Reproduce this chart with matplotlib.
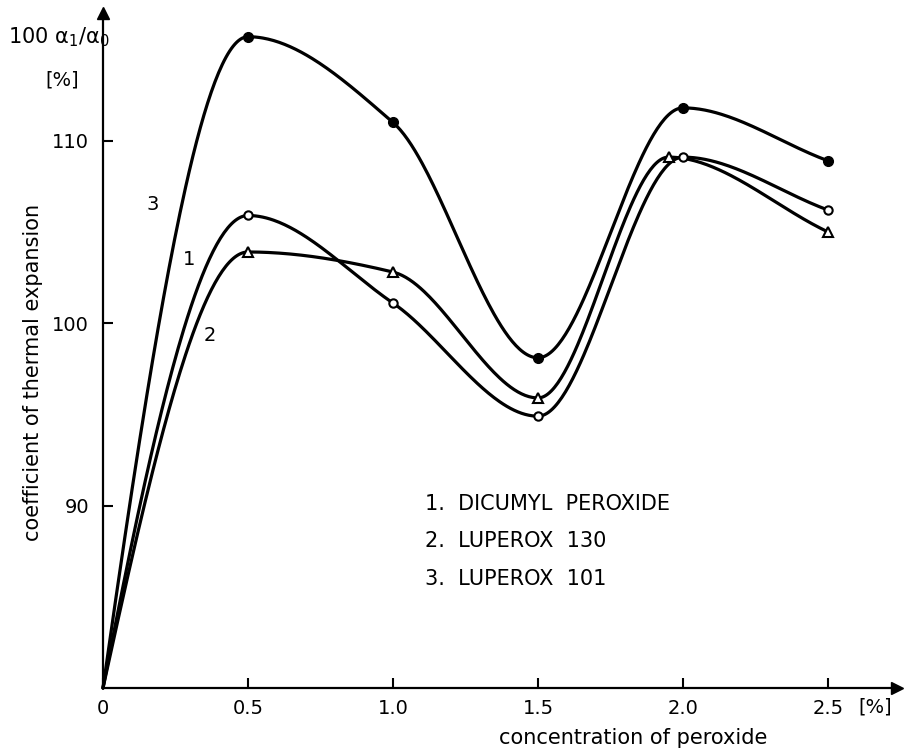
import numpy as np
import matplotlib
matplotlib.use("Agg")
import matplotlib.pyplot as plt

# concentration of peroxide [%]
conc = [0.0, 0.5, 1.0, 1.5, 2.0, 2.5]
conc_luperox130 = [0.0, 0.5, 1.0, 1.5, 1.95, 2.5]

# 100 a1/a0 [%]
dicumyl = [80.0, 105.9, 101.1, 94.9, 109.1, 106.2]      # curve 1, open circles
luperox130 = [80.0, 103.9, 102.8, 95.9, 109.1, 105.0]   # curve 2, open triangles
luperox101 = [80.0, 115.7, 111.0, 98.1, 111.8, 108.9]   # curve 3, filled circles

legend_lines = ["1.  DICUMYL  PEROXIDE", "2.  LUPEROX  130", "3.  LUPEROX  101"]
xticks = [0, 0.5, 1.0, 1.5, 2.0, 2.5]
xticklabels = ["0", "0.5", "1.0", "1.5", "2.0", "2.5"]
yticks = [90, 100, 110]


def pchip(x, y, n=80):
    # monotone cubic through the read points (drawing only, like a french curve)
    x = np.asarray(x, float)
    y = np.asarray(y, float)
    h = np.diff(x)
    d = np.diff(y) / h
    m = np.zeros_like(y)
    for k in range(1, len(x) - 1):
        if d[k-1] * d[k] > 0:
            w1 = 2*h[k] + h[k-1]
            w2 = h[k] + 2*h[k-1]
            m[k] = (w1 + w2) / (w1/d[k-1] + w2/d[k])

    # steep start at the origin, plain secant slope at the last point
    t0 = ((2*h[0] + h[1])*d[0] - h[0]*d[1]) / (h[0] + h[1])
    if np.sign(d[0]) != np.sign(d[1]) and abs(t0) > 3*abs(d[0]):
        t0 = 3*d[0]
    m[0] = t0
    m[-1] = d[-1]

    xs, ys = [], []
    for i in range(len(x) - 1):
        t = np.linspace(0, 1, n)
        h00 = 2*t**3 - 3*t**2 + 1
        h10 = t**3 - 2*t**2 + t
        h01 = -2*t**3 + 3*t**2
        h11 = t**3 - t**2
        xs.append(x[i] + t*h[i])
        ys.append(h00*y[i] + h10*h[i]*m[i] + h01*y[i+1] + h11*h[i]*m[i+1])
    return np.concatenate(xs), np.concatenate(ys)


plt.rcParams['font.family'] = ['DejaVu Sans']

fig = plt.figure(figsize=(9.05, 7.48), dpi=100)
ax = fig.add_axes([103/905, 60/748, 794/905, 675/748])
ax.set_xlim(0, 794/290)
ax.set_ylim(80, 117)

for s in ['top', 'right']:
    ax.spines[s].set_visible(False)
for s in ['left', 'bottom']:
    ax.spines[s].set_linewidth(1.6)

# arrow heads on the axes
ax.plot(1, 0, marker='>', ms=9, color='k', transform=ax.transAxes, clip_on=False)
ax.plot(0, 1, marker='^', ms=9, color='k', transform=ax.transAxes, clip_on=False)

lw = 2.3
for xv, yv in [(conc, dicumyl), (conc_luperox130, luperox130), (conc, luperox101)]:
    sx, sy = pchip(xv, yv)
    ax.plot(sx, sy, color='k', lw=lw, clip_on=False, solid_capstyle='round')

ax.plot(conc[1:], dicumyl[1:], 'o', ms=6, mfc='white', mec='k', mew=1.5, ls='none')
ax.plot(conc_luperox130[1:], luperox130[1:], '^', ms=7, mfc='white', mec='k', mew=1.5, ls='none')
ax.plot(conc[1:], luperox101[1:], 'o', ms=7, mfc='k', mec='k', ls='none')

ax.set_xticks(xticks)
ax.set_xticklabels(xticklabels)
ax.set_yticks(yticks)
ax.tick_params(direction='in', length=7, width=1.5, labelsize=14)
ax.tick_params(axis='x', pad=8)
ax.tick_params(axis='y', pad=10)

# curve numbers
ax.text(0.172, 106.5, "3", fontsize=14, ha='center', va='center')
ax.text(0.297, 103.5, "1", fontsize=14, ha='center', va='center')
ax.text(0.369, 99.3, "2", fontsize=14, ha='center', va='center')

# legend text
for i, line in enumerate(legend_lines):
    ax.text(1.11, 90.1 - i*2.05, line, fontsize=15, ha='left', va='center')

fig.text(875/905, 1 - 707/748, "[%]", fontsize=14, ha='center', va='center')
fig.text(8/905, 1 - 37/748, r"100 $\mathregular{\alpha_1/\alpha_0}$", fontsize=15,
         ha='left', va='center')
fig.text(62/905, 1 - 80/748, "[%]", fontsize=14, ha='center', va='center')
fig.text(33/905, 1 - 372/748, "coefficient of thermal expansion", fontsize=15,
         rotation=90, ha='center', va='center')
fig.text(633/905, 1 - 738/748, "concentration of peroxide", fontsize=15,
         ha='center', va='center')

fig.savefig("out.png", dpi=100)
